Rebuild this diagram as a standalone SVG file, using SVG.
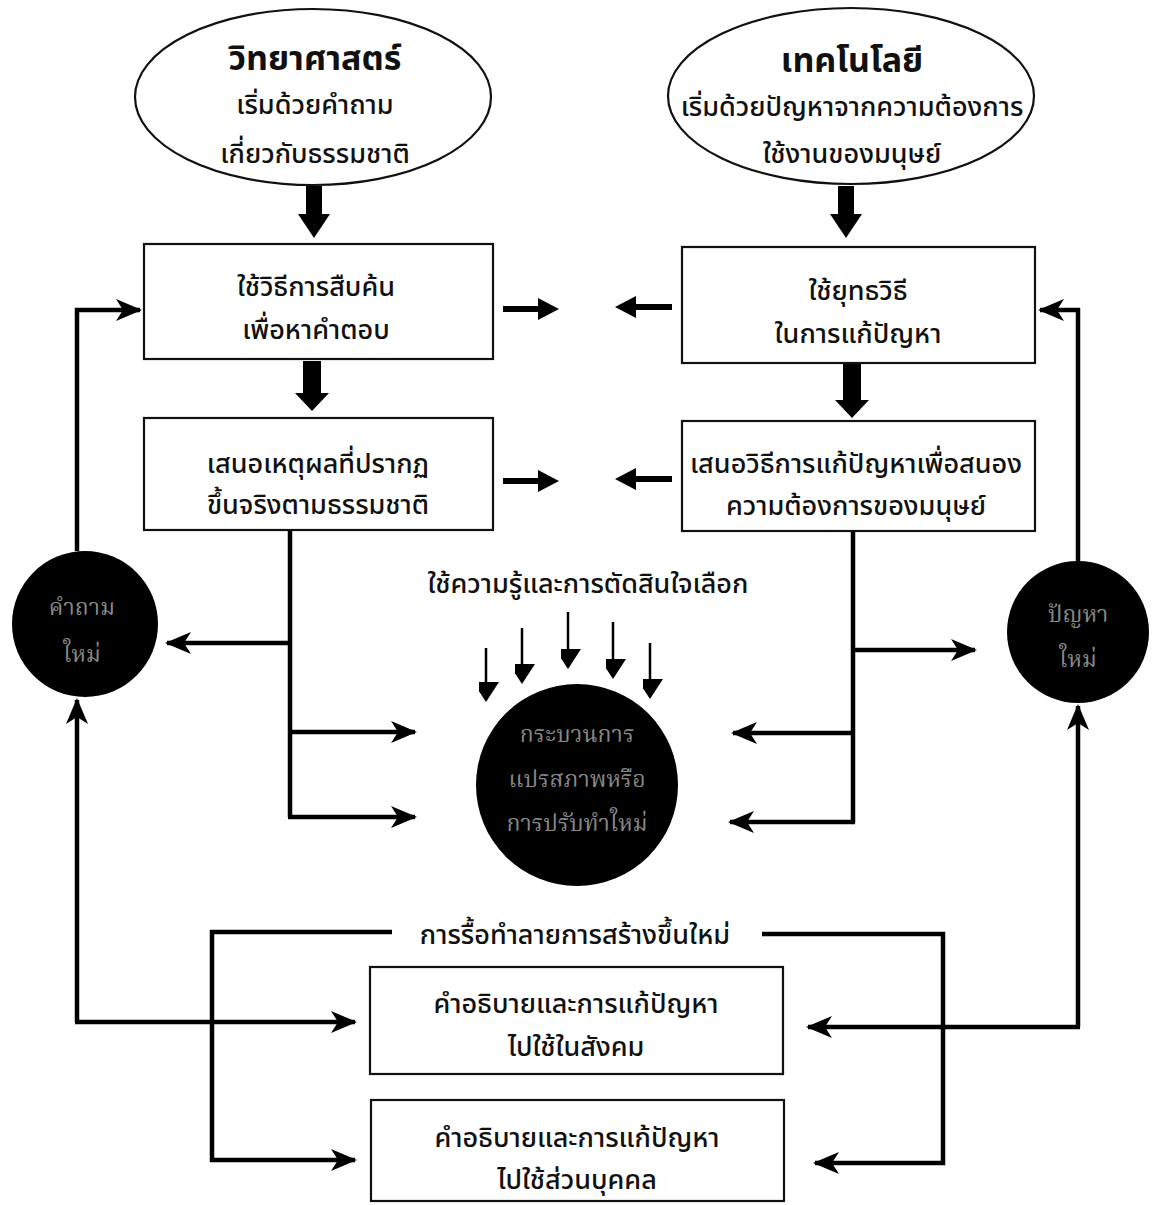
<svg xmlns="http://www.w3.org/2000/svg" width="1156" height="1205" viewBox="0 0 1156 1205">
<style>
.bg{fill:#fff}
.shape{fill:#fff;stroke:#111;stroke-width:2.2}
.dot{fill:#000}
.t{font-family:"Noto Sans Thai","Loma","Garuda","Tlwg Typo","DejaVu Sans",sans-serif;font-size:27px;font-weight:500;fill:#111;text-anchor:middle}
.tb{font-weight:bold;font-size:34px}
.tc{font-family:"Noto Serif Thai","Norasi","Liberation Serif",serif;font-size:23px;fill:#888;text-anchor:middle}
.ln{fill:none;stroke:#000;stroke-width:4.5;stroke-linejoin:miter}
.thin{fill:none;stroke:#000;stroke-width:2.5}
.big{fill:#000}
</style>
<defs>
<marker id="ah" markerUnits="userSpaceOnUse" markerWidth="26" markerHeight="22" refX="24" refY="11" orient="auto">
<path d="M0,0 L26,11 L0,22 L7,11 Z" fill="#000"/>
</marker>
<marker id="tri" markerUnits="userSpaceOnUse" markerWidth="26" markerHeight="20" refX="18" refY="13" orient="auto">
<path d="M0,0 L20,13 L0,26 Z" fill="#000"/>
</marker>
</defs>
<rect class="bg" x="0" y="0" width="1156" height="1205"/>

<g id="connectors">
<path class="big" d="M306,186 H322 V214 H330 L314,238 L298,214 H306 Z"/>
<path class="big" d="M838,186 H854 V214 H862 L846,238 L830,214 H838 Z"/>
<path class="big" d="M303,361 H321 V393 H329 L312,411 L295,393 H303 Z"/>
<path class="big" d="M843,364 H861 V400 H869 L852,418 L835,400 H843 Z"/>
<path class="big" d="M503,306 H538 V298 L559,309 L538,320 V312 H503 Z"/>
<path class="big" d="M503,478 H538 V470 L559,481 L538,492 V484 H503 Z"/>
<path class="big" d="M672,304 H636 V296 L615,307 L636,318 V310 H672 Z"/>
<path class="big" d="M672,476 H636 V468 L615,479 L636,490 V482 H672 Z"/>
<path class="ln" d="M77,551 V310 H140" marker-end="url(#ah)"/>
<path class="ln" d="M77,1022 V700" marker-end="url(#ah)"/>
<path class="ln" d="M75,1022 H355" marker-end="url(#ah)"/>
<path class="ln" d="M1078,561 V310 H1040" marker-end="url(#ah)"/>
<path class="ln" d="M1078,1027 V706" marker-end="url(#ah)"/>
<path class="ln" d="M1080,1027 H808" marker-end="url(#ah)"/>
<path class="ln" d="M290,530 V817"/>
<path class="ln" d="M290,643 H167" marker-end="url(#ah)"/>
<path class="ln" d="M290,732 H415" marker-end="url(#ah)"/>
<path class="ln" d="M288,817 H415" marker-end="url(#ah)"/>
<path class="ln" d="M853,530 V823"/>
<path class="ln" d="M853,650 H975" marker-end="url(#ah)"/>
<path class="ln" d="M853,733 H733" marker-end="url(#ah)"/>
<path class="ln" d="M855,822 H730" marker-end="url(#ah)"/>
<path class="thin" d="M486,648 V700" marker-end="url(#tri)"/>
<path class="thin" d="M522,628 V682" marker-end="url(#tri)"/>
<path class="thin" d="M568,612 V667" marker-end="url(#tri)"/>
<path class="thin" d="M613,622 V677" marker-end="url(#tri)"/>
<path class="thin" d="M650,643 V697" marker-end="url(#tri)"/>
<path class="ln" d="M392,932 H212 V1160 H355" marker-end="url(#ah)"/>
<path class="ln" d="M762,934 H943 V1163 H815" marker-end="url(#ah)"/>
</g>

<g id="science">
<ellipse class="shape" cx="313" cy="97" rx="178" ry="88"/>
<text class="t tb" x="315" y="70">วิทยาศาสตร์</text>
<text class="t" x="315" y="114">เริ่มด้วยคำถาม</text>
<text class="t" x="315" y="163">เกี่ยวกับธรรมชาติ</text>
</g>
<g id="technology">
<ellipse class="shape" cx="851" cy="96" rx="183" ry="88"/>
<text class="t tb" x="852" y="72">เทคโนโลยี</text>
<text class="t" x="852" y="116">เริ่มด้วยปัญหาจากความต้องการ</text>
<text class="t" x="852" y="163">ใช้งานของมนุษย์</text>
</g>
<g id="sci-method">
<rect class="shape" x="144" y="244" width="349" height="115"/>
<text class="t" x="316" y="296">ใช้วิธีการสืบค้น</text>
<text class="t" x="316" y="339">เพื่อหาคำตอบ</text>
</g>
<g id="tech-method">
<rect class="shape" x="682" y="247" width="353" height="116"/>
<text class="t" x="858" y="300">ใช้ยุทธวิธี</text>
<text class="t" x="858" y="343">ในการแก้ปัญหา</text>
</g>
<g id="sci-result">
<rect class="shape" x="144" y="418" width="349" height="112"/>
<text class="t" x="318" y="473">เสนอเหตุผลที่ปรากฏ</text>
<text class="t" x="318" y="514">ขึ้นจริงตามธรรมชาติ</text>
</g>
<g id="tech-result">
<rect class="shape" x="682" y="421" width="353" height="110"/>
<text class="t" x="856" y="473">เสนอวิธีการแก้ปัญหาเพื่อสนอง</text>
<text class="t" x="856" y="515">ความต้องการของมนุษย์</text>
</g>
<g id="new-question">
<circle class="dot" cx="85" cy="624" r="73"/>
<text class="tc" x="82" y="615">คำถาม</text>
<text class="tc" x="82" y="662">ใหม่</text>
</g>
<g id="new-problem">
<circle class="dot" cx="1078" cy="632" r="71"/>
<text class="tc" x="1078" y="622">ปัญหา</text>
<text class="tc" x="1078" y="667">ใหม่</text>
</g>
<g id="knowledge-label">
<text class="t" x="588" y="593">ใช้ความรู้และการตัดสินใจเลือก</text>
</g>
<g id="transform">
<circle class="dot" cx="577" cy="785" r="101"/>
<text class="tc" x="577" y="742">กระบวนการ</text>
<text class="tc" x="577" y="787">แปรสภาพหรือ</text>
<text class="tc" x="577" y="831">การปรับทำใหม่</text>
</g>
<g id="rebuild-label">
<text class="t" x="575" y="944">การรื้อทำลายการสร้างขึ้นใหม่</text>
</g>
<g id="society">
<rect class="shape" x="370" y="967" width="413" height="107"/>
<text class="t" x="576" y="1013">คำอธิบายและการแก้ปัญหา</text>
<text class="t" x="576" y="1056">ไปใช้ในสังคม</text>
</g>
<g id="personal">
<rect class="shape" x="371" y="1100" width="413" height="101"/>
<text class="t" x="577" y="1147">คำอธิบายและการแก้ปัญหา</text>
<text class="t" x="577" y="1189">ไปใช้ส่วนบุคคล</text>
</g>
</svg>
